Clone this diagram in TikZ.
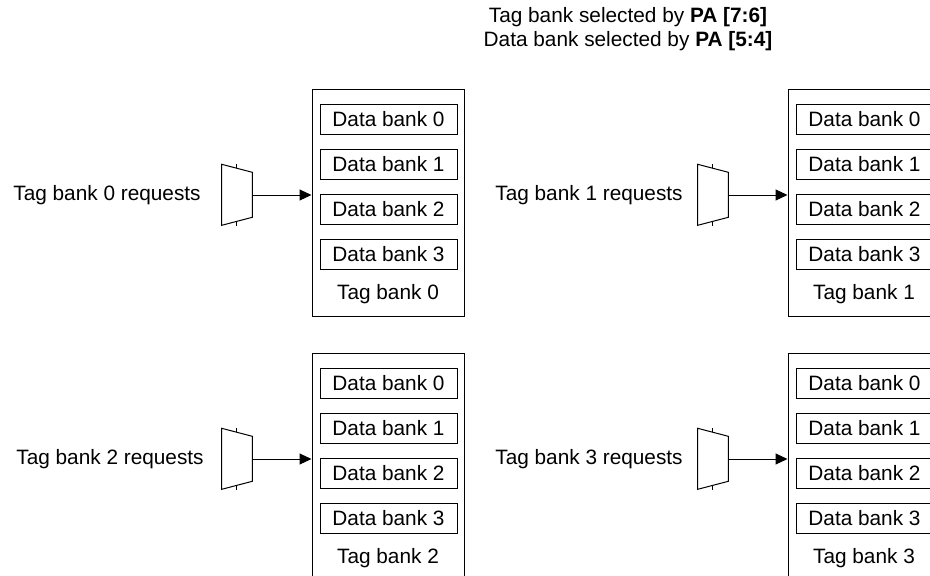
\documentclass[tikz,border=0pt]{standalone}
\usepackage{fontspec}
\setmainfont{Liberation Sans}
\usetikzlibrary{arrows.meta}

\begin{document}
\begin{tikzpicture}[x=1pt,y=-1pt,line width=1pt,
  font=\fontsize{20.8}{24}\selectfont,
  bankbox/.style={draw, minimum width=137pt, minimum height=30pt, inner sep=0pt},
  tagbox/.style={draw, minimum width=152pt, minimum height=227pt, inner sep=0pt}]
  \useasboundingbox (0,0) rectangle (930,576);
  \clip (0,0) rectangle (930,576);
  \node[align=center] (title) at (628,29) {Tag bank selected by \textbf{PA [7:6]}\\Data bank selected by \textbf{PA [5:4]}};
  \foreach \i/\dx/\dy/\lx in {0/0/0/107, 1/476/0/113, 2/0/264/110, 3/476/264/113} {
    \begin{scope}[shift={(\dx,\dy)}]
      \node[tagbox] (tb\i) at (388,202.5) {};
      \foreach \j in {0,...,3}
        \node[bankbox] (db\i\j) at (388.5,119+45*\j) {Data bank \j};
      \node (tl\i) at (388,294) {Tag bank \i};
      \node (req\i) at (\lx,195) {Tag bank \i\ requests};
      % mux
      \draw (221.7,164.3) -- (252.3,172.3) -- (252.3,217.3) -- (221.7,225.3) -- cycle;
      \draw (236.7,164) -- (236.7,168.2) (236.7,221.4) -- (236.7,225.6);
      \coordinate (mux\i) at (252.3,195);
      \draw[-{Triangle[length=12pt,width=11pt]}] (mux\i) -- (mux\i -| tb\i.west);
    \end{scope}
  }
\end{tikzpicture}
\end{document}
